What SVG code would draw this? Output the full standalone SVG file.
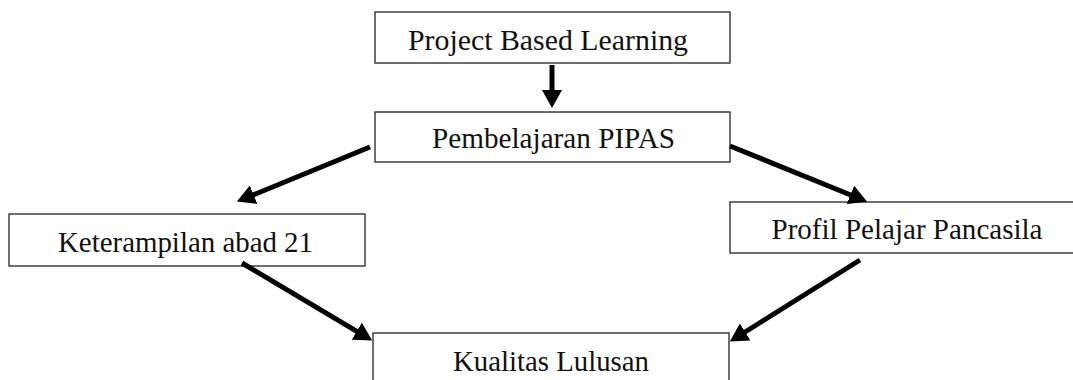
<svg xmlns="http://www.w3.org/2000/svg" width="1073" height="380" viewBox="0 0 1073 380">
  <style>
    .box { fill: #ffffff; stroke: #333333; stroke-width: 1.4; }
    .lbl { font-family: "Liberation Serif", "Times New Roman", serif; font-size: 29px; fill: #111111; text-anchor: middle; }
    .conn { stroke: #000000; stroke-width: 5; fill: none; marker-end: url(#head); }
  </style>
  <defs>
    <marker id="head" markerUnits="userSpaceOnUse" viewBox="0 0 18 20" refX="3" refY="10" markerWidth="18" markerHeight="20" orient="auto">
      <path d="M0,0 L18,10 L0,20 Z" fill="#000000"/>
    </marker>
    <clipPath id="c1"><rect x="375" y="12" width="355" height="51"/></clipPath>
    <clipPath id="c2"><rect x="375" y="112" width="355" height="50"/></clipPath>
    <clipPath id="c3"><rect x="9" y="214" width="356" height="52"/></clipPath>
    <clipPath id="c4"><rect x="730" y="202" width="345" height="51"/></clipPath>
    <clipPath id="c5"><rect x="373" y="333" width="356" height="60"/></clipPath>
  </defs>

  <g id="node-pbl">
    <rect class="box" x="375" y="12" width="355" height="51"/>
    <text class="lbl" x="548" y="50" textLength="280" lengthAdjust="spacingAndGlyphs" clip-path="url(#c1)">Project Based Learning</text>
  </g>
  <g id="node-pipas">
    <rect class="box" x="375" y="112" width="355" height="50"/>
    <text class="lbl" x="553.5" y="148" textLength="243" lengthAdjust="spacingAndGlyphs" clip-path="url(#c2)">Pembelajaran PIPAS</text>
  </g>
  <g id="node-keterampilan">
    <rect class="box" x="9" y="214" width="356" height="52"/>
    <text class="lbl" x="185.5" y="252" textLength="255" lengthAdjust="spacingAndGlyphs" clip-path="url(#c3)">Keterampilan abad 21</text>
  </g>
  <g id="node-profil">
    <rect class="box" x="730" y="202" width="345" height="51"/>
    <text class="lbl" x="907" y="239" textLength="271" lengthAdjust="spacingAndGlyphs" clip-path="url(#c4)">Profil Pelajar Pancasila</text>
  </g>
  <g id="node-kualitas">
    <rect class="box" x="373" y="333" width="356" height="60"/>
    <text class="lbl" x="551" y="371" textLength="196" lengthAdjust="spacingAndGlyphs" clip-path="url(#c5)">Kualitas Lulusan</text>
  </g>

  <g id="connectors">
    <line class="conn" x1="552" y1="65" x2="552" y2="93"/>
    <line class="conn" x1="370" y1="147" x2="250.8" y2="195.9"/>
    <line class="conn" x1="242" y1="263" x2="359.3" y2="332.8"/>
    <line class="conn" x1="730" y1="146" x2="853.2" y2="196"/>
    <line class="conn" x1="860" y1="260" x2="742.6" y2="333.5"/>
  </g>
</svg>
